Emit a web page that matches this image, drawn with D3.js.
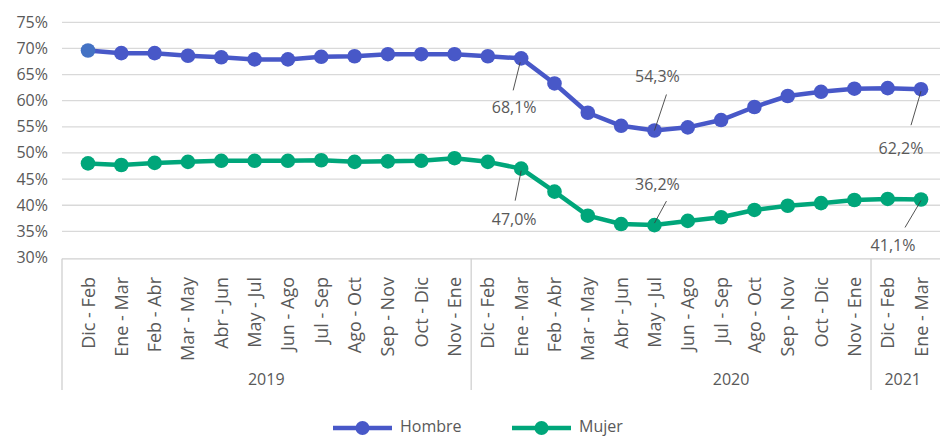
<!DOCTYPE html>
<html><head><meta charset="utf-8">
<script src="https://cdn.jsdelivr.net/npm/d3@7"></script>
<style>
html,body{margin:0;padding:0;background:#fff;}
text{font-family:"Open Sans",sans-serif;fill:#595959;}
</style></head>
<body>
<svg id="c" width="941" height="436"></svg>
<script>
const categories = ["Dic - Feb","Ene - Mar","Feb - Abr","Mar - May","Abr - Jun","May - Jul","Jun - Ago","Jul - Sep","Ago - Oct","Sep - Nov","Oct - Dic","Nov - Ene",
  "Dic  - Feb","Ene - Mar ","Feb - Abr ","Mar - May ","Abr - Jun ","May - Jul ","Jun - Ago ","Jul - Sep ","Ago - Oct ","Sep - Nov ","Oct - Dic ","Nov - Ene ",
  "Dic  - Feb ","Ene - Mar  "];
const hombre = [69.6,69.1,69.1,68.6,68.3,67.9,67.9,68.4,68.5,68.9,68.9,68.9,68.5,68.1,63.3,57.7,55.2,54.3,54.9,56.3,58.8,60.9,61.7,62.3,62.4,62.2];
const mujer  = [48.0,47.7,48.1,48.3,48.5,48.5,48.5,48.6,48.3,48.4,48.5,49.0,48.3,47.0,42.6,38.0,36.4,36.2,37.0,37.7,39.1,39.9,40.4,41.0,41.2,41.1];
const yTicks = [30,35,40,45,50,55,60,65,70,75];
const years = ["2019","2020","2021"];
const yearStart = [0,12,24];
const yearEnd = [11,23,25];
const yearLabelIdx = [5.35,19.3,24.45];
const labelled = [13,17,25];

const svg = d3.select("#c");
const x = d3.scalePoint().domain(d3.range(categories.length)).range([88,921]);
const y = d3.scaleLinear().domain([30,75]).range([257.5,22.3]);
const xPos = i => 88 + i*(921-88)/(categories.length-1);
const blue = "#4858C8", green = "#00A67A";
const fmt = v => v.toFixed(1).replace(".",",") + "%";

// gridlines
svg.append("g").selectAll("line").data(yTicks.slice(1)).join("line")
  .attr("x1",62).attr("x2",940).attr("y1",d=>y(d)).attr("y2",d=>y(d))
  .attr("stroke","#d9d9d9").attr("stroke-width",1.3);
// y axis labels
svg.append("g").selectAll("text").data(yTicks).join("text")
  .attr("x",48).attr("y",d=>y(d)+5.5).attr("text-anchor","end")
  .style("font-size","16px").text(d=>d+"%");
// x axis baseline
const baseY = 258.8;
svg.append("line").attr("x1",62).attr("x2",940).attr("y1",baseY).attr("y2",baseY)
  .attr("stroke","#d0d0d0").attr("stroke-width",1.3);
// group dividers
const dividers = [62].concat(yearEnd.slice(0,-1).map(e => (x(e)+x(e+1))/2));
svg.append("g").selectAll("line").data(dividers).join("line")
  .attr("x1",d=>d).attr("x2",d=>d).attr("y1",baseY).attr("y2",390)
  .attr("stroke","#d0d0d0").attr("stroke-width",1.3);
// category labels
svg.append("g").selectAll("text").data(categories).join("text")
  .attr("transform",(d,i)=>`translate(${x(i)+6.5},277) rotate(-90)`)
  .attr("text-anchor","end").style("font-size","18px").text(d=>d.trim());
// year labels
svg.append("g").selectAll("text").data(years).join("text")
  .attr("x",(d,i)=>xPos(yearLabelIdx[i])).attr("y",385).attr("text-anchor","middle")
  .style("font-size","16px").text(d=>d);

// lines
const line = d3.line().x((d,i)=>x(i)).y(d=>y(d));
function series(vals,color,firstColor){
  svg.append("path").datum(vals).attr("d",line).attr("fill","none")
    .attr("stroke",color).attr("stroke-width",4.5).attr("stroke-linejoin","round");
  svg.append("g").selectAll("circle").data(vals).join("circle")
    .attr("cx",(d,i)=>x(i)).attr("cy",d=>y(d)).attr("r",7.3)
    .attr("fill",(d,i)=> i===0 && firstColor ? firstColor : color);
}
series(hombre,blue,"#4472C4");
series(mujer,green,null);

// data labels with leader lines (offsets relative to point)
const hLab = [{lx:[-8,-1],ly:[32,4],tx:-7,ty:55},{lx:[12,0],ly:[-36,0],tx:3,ty:-48},{lx:[-10,0],ly:[36,2],tx:-20,ty:65}];
const mLab = [{lx:[-6,0],ly:[32,2],tx:-7,ty:56},{lx:[12,0],ly:[-24,-2],tx:3,ty:-35},{lx:[-16,0],ly:[28,1],tx:-28,ty:52}];
function labels(vals,spec){
  labelled.forEach((idx,k)=>{
    const px = x(idx), py = y(vals[idx]), s = spec[k];
    svg.append("line").attr("x1",px+s.lx[0]).attr("y1",py+s.ly[0]).attr("x2",px+s.lx[1]).attr("y2",py+s.ly[1])
      .attr("stroke","#404040").attr("stroke-width",0.9);
    svg.append("text").attr("x",px+s.tx).attr("y",py+s.ty).attr("text-anchor","middle")
      .style("font-size","16px").text(fmt(vals[idx]));
  });
}
labels(hombre,hLab);
labels(mujer,mLab);

// legend
const leg = [{name:"Hombre",color:blue,x0:333},{name:"Mujer",color:green,x0:512}];
leg.forEach(l=>{
  svg.append("line").attr("x1",l.x0).attr("x2",l.x0+59).attr("y1",428).attr("y2",428)
    .attr("stroke",l.color).attr("stroke-width",4.5);
  svg.append("circle").attr("cx",l.x0+29.5).attr("cy",428).attr("r",7).attr("fill",l.color);
  svg.append("text").attr("x",l.x0+67).attr("y",432).style("font-size","16px").text(l.name);
});
</script>
</body></html>
